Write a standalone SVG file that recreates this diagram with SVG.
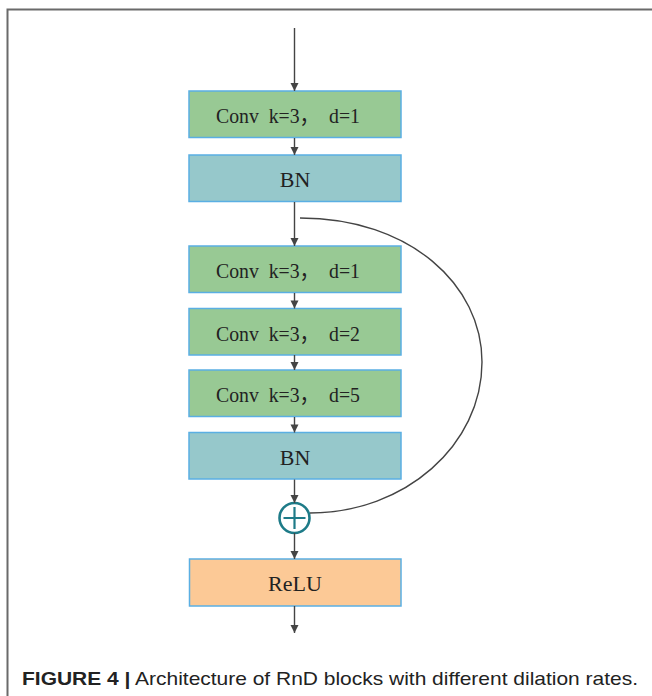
<svg xmlns="http://www.w3.org/2000/svg" width="652" height="696" viewBox="0 0 652 696">
<defs>
<marker id="ah" markerWidth="10" markerHeight="10" refX="9" refY="5" orient="auto" markerUnits="userSpaceOnUse">
<path d="M1,1 L9,5 L1,9 Z" fill="#444"/>
</marker>
<style>
.box{stroke:#5aafe3;stroke-width:1.5}
.conv{fill:#98c994}
.bn{fill:#96c8cb}
.relu{fill:#fcc996}
.lbl{font-family:"Liberation Serif","Noto Sans CJK SC",serif;font-size:22px;fill:#222;text-anchor:middle;white-space:pre}
.cn{stroke:#444;stroke-width:1.4;fill:none}
</style>
</defs>
<rect width="652" height="696" fill="#fff"/>
<path d="M7.5,696 V9.5 H652" fill="none" stroke="#6a6a6a" stroke-width="2"/>

<g id="conv1"><rect class="box conv" x="189" y="91" width="212" height="46.5"/><text class="lbl" x="288" y="123" textLength="144" lengthAdjust="spacingAndGlyphs" xml:space="preserve">Conv  k=3，  d=1</text></g>
<g id="bn1"><rect class="box bn" x="189" y="155" width="212" height="46.5"/><text class="lbl" x="295" y="187">BN</text></g>
<g id="conv2"><rect class="box conv" x="189" y="246" width="212" height="46.5"/><text class="lbl" x="288" y="278" textLength="144" lengthAdjust="spacingAndGlyphs" xml:space="preserve">Conv  k=3，  d=1</text></g>
<g id="conv3"><rect class="box conv" x="189" y="308.5" width="212" height="46.5"/><text class="lbl" x="288" y="340.5" textLength="144" lengthAdjust="spacingAndGlyphs" xml:space="preserve">Conv  k=3，  d=2</text></g>
<g id="conv4"><rect class="box conv" x="189" y="370" width="212" height="46.5"/><text class="lbl" x="288" y="402" textLength="144" lengthAdjust="spacingAndGlyphs" xml:space="preserve">Conv  k=3，  d=5</text></g>
<g id="bn2"><rect class="box bn" x="189" y="432.5" width="212" height="46.5"/><text class="lbl" x="295" y="464.5">BN</text></g>
<g id="add"><circle cx="294.5" cy="518" r="15" fill="#fff" stroke="#1e7b88" stroke-width="2.6"/><path d="M283.5,518 H305.5 M294.5,507 V529" stroke="#1e7b88" stroke-width="2.2"/></g>
<g id="relu"><rect class="box relu" x="189.5" y="559" width="211.5" height="47"/><text class="lbl" x="295" y="591">ReLU</text></g>

<g id="connectors">
<line class="cn" x1="294.5" y1="28" x2="294.5" y2="91" marker-end="url(#ah)"/>
<line class="cn" x1="294.5" y1="138" x2="294.5" y2="155" marker-end="url(#ah)"/>
<line class="cn" x1="294.5" y1="202" x2="294.5" y2="246" marker-end="url(#ah)"/>
<line class="cn" x1="294.5" y1="293" x2="294.5" y2="308.5" marker-end="url(#ah)"/>
<line class="cn" x1="294.5" y1="355" x2="294.5" y2="370" marker-end="url(#ah)"/>
<line class="cn" x1="294.5" y1="417" x2="294.5" y2="432.5" marker-end="url(#ah)"/>
<line class="cn" x1="294.5" y1="479.5" x2="294.5" y2="503" marker-end="url(#ah)"/>
<line class="cn" x1="294.5" y1="533" x2="294.5" y2="559" marker-end="url(#ah)"/>
<line class="cn" x1="294.5" y1="606" x2="294.5" y2="633" marker-end="url(#ah)"/>
<path class="cn" d="M300,218 C410,218 482,285 482,362 C482,445 405,513 310,513"/>
</g>

<text x="22" y="685" font-family="'Liberation Sans',Arial,sans-serif" font-size="19" fill="#222" textLength="616" lengthAdjust="spacingAndGlyphs"><tspan font-weight="bold">FIGURE 4 |</tspan> Architecture of RnD blocks with different dilation rates.</text>
</svg>
